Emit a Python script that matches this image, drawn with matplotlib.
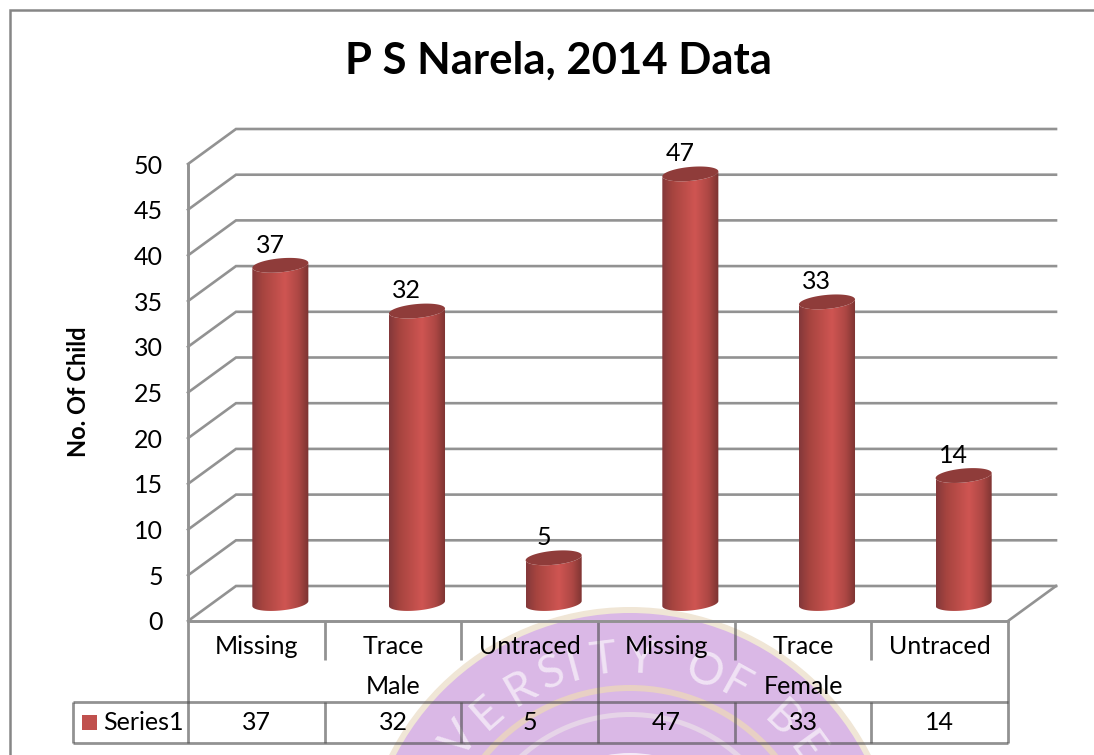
import numpy as np
import matplotlib
matplotlib.use('Agg')
import matplotlib.pyplot as plt
from matplotlib.colors import LinearSegmentedColormap
from matplotlib.patches import Circle, Polygon, Rectangle, Wedge

plt.rcParams['font.family'] = ['Lato', 'DejaVu Sans']

# data
groups = ['Male', 'Female']
categories = ['Missing', 'Trace', 'Untraced', 'Missing', 'Trace', 'Untraced']
values = [37, 32, 5, 47, 33, 14]
series_name = 'Series1'
y_ticks = [0, 5, 10, 15, 20, 25, 30, 35, 40, 45, 50]

# seal letters and where they sit on the ring (degrees from the top)
seal_letters = ['V', 'E', 'R', 'S', 'I', 'T', 'Y', 'O', 'F', 'B', 'E']
seal_angles = [-51, -41, -30, -21, -15, -7, 3, 20, 29, 44, 54]

W, H = 1094, 755
FS = 18
fig = plt.figure(figsize=(W / 100, H / 100), dpi=100, facecolor='white')

# whole figure in pixels, for frame, seal and data table
pix = fig.add_axes([0, 0, 1, 1], zorder=1)
pix.set_xlim(0, W)
pix.set_ylim(H, 0)
pix.axis('off')

# chart axes = front plane of the 3d box
left, right, top, bottom = 188, 1008, 164, 621
ax = fig.add_axes([left / W, 1 - bottom / H, (right - left) / W, (bottom - top) / H], zorder=2)
ax.patch.set_alpha(0)

LINE = '#929292'
TABLE_LINE = '#505050'
dx = 48 / ((right - left) / 6)
dy = 35 / ((bottom - top) / 50)

# frame
pix.plot([10, 10, W], [H, 9.5, 9.5], color='#868686', lw=1.8, solid_joinstyle='miter')

# seal behind everything
cx, cy = 630, 877
pix.add_patch(Circle((cx, cy), 270, fc='#f0e6d6', ec='none', zorder=0))
pix.add_patch(Circle((cx, cy), 264, fc='#dab8e6', ec='none', zorder=0))
pix.add_patch(Wedge((cx, cy), 192, 0, 360, width=6, fc='#e8d0c4', ec='none', zorder=0.1))
pix.add_patch(Wedge((cx, cy), 165, 0, 360, width=5, fc='#e6d4e8', ec='none', zorder=0.1))
pix.add_patch(Circle((cx, cy), 124, fc='#f6eaf8', ec='none', zorder=0.1))
for ch, a in zip(seal_letters, seal_angles):
    t = np.radians(a)
    pix.text(cx + 218 * np.sin(t), cy - 218 * np.cos(t), ch, rotation=-a, rotation_mode='anchor',
             ha='center', va='center', fontsize=33, color='white', alpha=0.6, zorder=0.2)

# walls
for v in y_ticks:
    ax.plot([0, dx, 6 + dx], [v, v + dy, v + dy], color=LINE, lw=1.9, clip_on=False, zorder=1,
            solid_joinstyle='miter')
ax.plot([6, 6 + dx], [0, dy], color=LINE, lw=1.9, clip_on=False, zorder=1)

# cylinders
cyl = LinearSegmentedColormap.from_list('cyl', [(0, '#83383a'), (0.18, '#a6443f'), (0.58, '#cf5552'),
                                                (0.82, '#ad4744'), (1, '#7a3331')])
w = 0.205
h = 7 / ((bottom - top) / 50)
tilt = 2.5 / ((bottom - top) / 50)
for i, v in enumerate(values):
    c = i + 0.5 + dx / 2
    y0 = dy / 2
    t = np.linspace(np.pi, 2 * np.pi, 60)
    low_x = c + w * np.cos(t)
    low = h * np.sin(t) + tilt * np.cos(t)
    body_x = np.r_[low_x, low_x[::-1]]
    body_y = np.r_[y0 + low, v + y0 + low[::-1]]
    body = Polygon(np.c_[body_x, body_y], fc='none', ec='none', transform=ax.transData)
    ax.add_patch(body)
    im = ax.imshow(np.linspace(0, 1, 200).reshape(1, -1), cmap=cyl, aspect='auto', zorder=3,
                   extent=[c - w, c + w, y0 - 2, v + y0 + 2], interpolation='bilinear')
    im.set_clip_path(body)
    t = np.linspace(0, 2 * np.pi, 120)
    ax.add_patch(Polygon(np.c_[c + w * np.cos(t), v + y0 + h * np.sin(t) + tilt * np.cos(t)],
                         fc='#8f3c3a', ec='none', zorder=4))
    ax.text(c - 0.075, v + y0 + 2.2, str(v), ha='center', va='center', fontsize=FS, color='black', zorder=5)

ax.set_xlim(0, 6)
ax.set_ylim(0, 50)
ax.set_xticks([])
ax.set_yticks(y_ticks)
ax.tick_params(axis='y', length=0, pad=18, labelsize=FS)
for s in ['top', 'right']:
    ax.spines[s].set_visible(False)
for s in ['left', 'bottom']:
    ax.spines[s].set_color(LINE)
    ax.spines[s].set_linewidth(2.1)
    ax.spines[s].set_zorder(2)

# titles
pix.text(558, 61, 'P S Narela, 2014 Data', ha='center', va='center', fontsize=31.4, fontweight='bold')
pix.text(78, 392, 'No. Of Child', ha='center', va='center', rotation=90, fontsize=17, fontweight='bold')

# data table under the chart
col = (right - left) / 6
tl = dict(color=TABLE_LINE, lw=2.0, alpha=0.62, zorder=1, solid_capstyle='butt')
for i in range(7):
    x = left + i * col
    if i in (0, 3, 6):
        pix.plot([x, x], [621, 743], **tl)
    else:
        pix.plot([x, x], [621, 660], **tl)
        pix.plot([x, x], [702, 743], **tl)
pix.plot([73, right], [702, 702], **tl)
pix.plot([73, right], [743, 743], **tl)
pix.plot([73, 73], [702, 743], **tl)
for i, (cat, v) in enumerate(zip(categories, values)):
    x = left + (i + 0.5) * col
    pix.text(x, 646, cat, ha='center', va='center', fontsize=FS, zorder=3)
    pix.text(x, 723, str(v), ha='center', va='center', fontsize=FS, zorder=3)
for j, g in enumerate(groups):
    pix.text(left + (3 * j + 1.5) * col, 686, g, ha='center', va='center', fontsize=FS, zorder=3)
pix.add_patch(Rectangle((82, 715), 15, 15, fc='#c0504d', ec='none', zorder=3))
pix.text(103, 722, series_name, ha='left', va='center', fontsize=FS, zorder=3)

fig.savefig('out.png', dpi=100)
